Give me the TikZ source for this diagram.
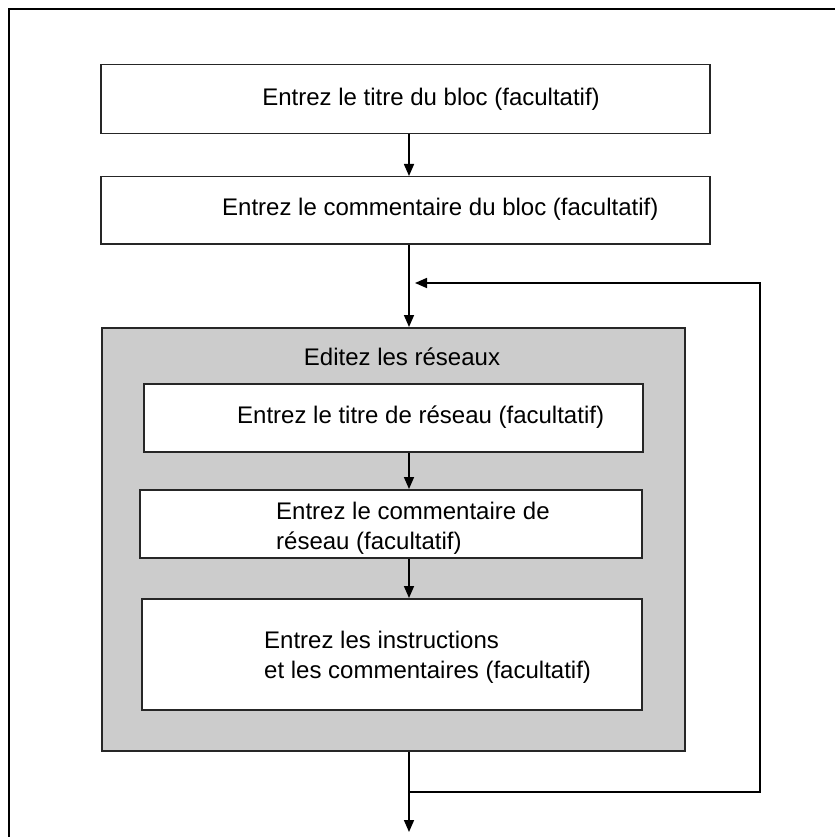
\documentclass[tikz,border=0pt]{standalone}
\usepackage{fontspec}
\setmainfont{Liberation Sans}
\usetikzlibrary{arrows.meta}
\begin{document}
\begin{tikzpicture}[x=1pt,y=-1pt,
  box/.style={draw=black!85,line width=1.5pt,fill=white,inner sep=0pt,anchor=north west},
  netbox/.style={draw=black!85,line width=1.5pt,fill=black!20,inner sep=0pt,anchor=north west},
  txt/.style={font=\fontsize{24}{30}\selectfont,inner sep=0pt,align=left},
  arr/.style={draw=black,line width=1.6pt,-{Triangle[length=12pt,width=10pt]}},
  conn/.style={draw=black,line width=1.6pt}]
\useasboundingbox (0,0) rectangle (835,837);
% outer frame
\coordinate (fbl) at (9,837);
\coordinate (ftl) at (9,9);
\coordinate (ftr) at (835,9);
\draw[line width=2pt,black] (fbl) -- (ftl) -- (ftr);
% boxes
\node[box,minimum width=609pt,minimum height=69pt] (b1) at (100,64) {};
\node[box,minimum width=609pt,minimum height=67pt] (b2) at (100,176) {};
\node[netbox,minimum width=583pt,minimum height=423pt] (net) at (101,327) {};
\node[box,minimum width=499pt,minimum height=68pt] (n1) at (143,383) {};
\node[box,minimum width=502pt,minimum height=68pt] (n2) at (139,489) {};
\node[box,minimum width=500pt,minimum height=111pt] (n3) at (141,598) {};
% texts
\node[txt] (t1) at (431,99) {Entrez le titre du bloc (facultatif)};
\node[txt,anchor=west] (t2) at (222,209) {Entrez le commentaire du bloc (facultatif)};
\node[txt] (t3) at (402,357) {Editez les réseaux};
\node[txt,anchor=west] (t4) at (237,417) {Entrez le titre de réseau (facultatif)};
\node[txt,anchor=west] (t5) at (276,528) {Entrez le commentaire de\\réseau (facultatif)};
\node[txt,anchor=west] (t6) at (264,657) {Entrez les instructions\\et les commentaires (facultatif)};
% connectors
\coordinate (spine) at (409,0);
\coordinate (join) at (409,792);
\coordinate (exit) at (409,832);
\coordinate (loopTop) at (760,283);
\coordinate (loopTip) at (415,283);
\draw[arr] (b1.south -| spine) -- (b2.north -| spine);
\draw[arr] (b2.south -| spine) -- (net.north -| spine);
\draw[arr] (n1.south -| spine) -- (n2.north -| spine);
\draw[arr] (n2.south -| spine) -- (n3.north -| spine);
\draw[arr] (net.south -| spine) -- (exit);
\draw[arr] (join) -| (loopTop) -- (loopTip);
\end{tikzpicture}
\end{document}
